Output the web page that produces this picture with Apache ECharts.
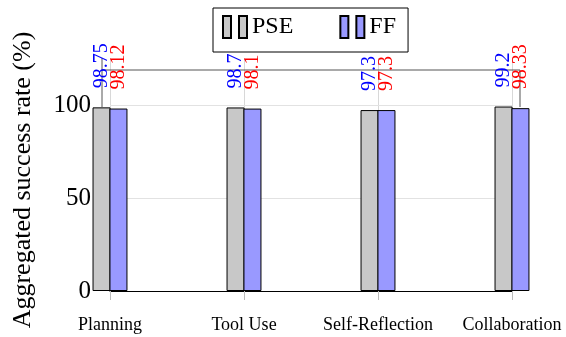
<!DOCTYPE html>
<html>
<head>
<meta charset="utf-8">
<script src="https://cdn.jsdelivr.net/npm/echarts@6/dist/echarts.min.js"></script>
<style>
  html, body { margin: 0; padding: 0; background: #fff; }
  #chart { width: 566px; height: 337px; }
</style>
</head>
<body>
<div id="chart"></div>
<script>
// 数据
const categories = ["Planning", "Tool Use", "Self-Reflection", "Collaboration"];
const pseValues = [98.75, 98.7, 97.3, 99.2];
const ffValues = [98.12, 98.1, 97.3, 98.33];
const yTicks = [0, 50, 100];

const serif = "'Liberation Serif', 'DejaVu Serif', serif";

const barLabel = (color) => ({
  show: true,
  position: "top",
  rotate: 90,
  align: "left",
  verticalAlign: "middle",
  distance: 19,
  color: color,
  fontSize: 20,
  fontFamily: serif,
  formatter: (p) => String(p.value),
});

const options = {
  animation: false,
  textStyle: { fontFamily: serif },
  grid: {
    top: 58,
    bottom: 46,
    left: 110,
    right: 54,
  },
  legend: {
    left: 213,
    top: 8,
    data: ["PSE", "FF"],
    icon: "path://M0,0h8v22h-8z M16,0h8v22h-8z",
    itemWidth: 24,
    itemHeight: 22,
    itemGap: 46,
    padding: [7, 12, 13, 9],
    borderColor: "#000",
    borderWidth: 1,
    backgroundColor: "#fff",
    textStyle: {
      fontFamily: serif,
      fontSize: 24,
      color: "#000",
    },
  },
  xAxis: {
    type: "category",
    data: categories,
    boundaryGap: false,
    axisLine: { show: true, lineStyle: { color: "#000", width: 1 } },
    axisTick: { show: true, length: 9, lineStyle: { color: "#bbb" } },
    axisLabel: {
      margin: 25,
      color: "#000",
      fontFamily: serif,
      fontSize: 18,
      interval: 0,
    },
    splitLine: { show: true, lineStyle: { color: "#d8d8d8", width: 1 } },
  },
  yAxis: {
    type: "value",
    min: 0,
    max: 125.3,
    interval: 50,
    name: "Aggregated success rate (%)",
    nameLocation: "middle",
    nameGap: 74,
    nameTextStyle: {
      fontFamily: serif,
      fontSize: 26,
      color: "#000",
      padding: [0, 11, 0, 0],
    },
    axisLine: { show: false },
    axisTick: { show: false },
    axisLabel: {
      margin: 19,
      color: "#000",
      fontFamily: serif,
      fontSize: 25,
      showMaxLabel: false,
      formatter: (v) => (yTicks.includes(v) ? String(v) : ""),
    },
    splitLine: { show: false },
  },
  graphic: [
    { type: "line", shape: { x1: 102, y1: 70, x2: 520, y2: 70 }, style: { stroke: "#555", lineWidth: 1 }, z: 1 },
    { type: "line", shape: { x1: 102, y1: 58, x2: 102, y2: 107 }, style: { stroke: "#555", lineWidth: 1 }, z: 1 },
    { type: "line", shape: { x1: 520, y1: 70, x2: 520, y2: 107 }, style: { stroke: "#555", lineWidth: 1 }, z: 1 },
  ],
  series: [
    {
      name: "PSE",
      type: "bar",
      barWidth: 18,
      barGap: "-6%",
      data: pseValues,
      itemStyle: { color: "#c8c8c8", borderColor: "#000", borderWidth: 1 },
      label: barLabel("#0000ff"),
      markLine: {
        silent: true,
        symbol: "none",
        label: { show: false },
        lineStyle: { color: "#e2e2e2", type: "solid", width: 1 },
        data: yTicks.filter((t) => t > 0).map((t) => ({ yAxis: t })),
        z: 0,
      },
    },
    {
      name: "FF",
      type: "bar",
      barWidth: 18,
      barGap: "-6%",
      data: ffValues,
      itemStyle: { color: "#9999ff", borderColor: "#000", borderWidth: 1 },
      label: barLabel("#ff0000"),
    },
  ],
};

const chart = echarts.init(document.getElementById("chart"));
chart.setOption(options);
</script>
</body>
</html>
